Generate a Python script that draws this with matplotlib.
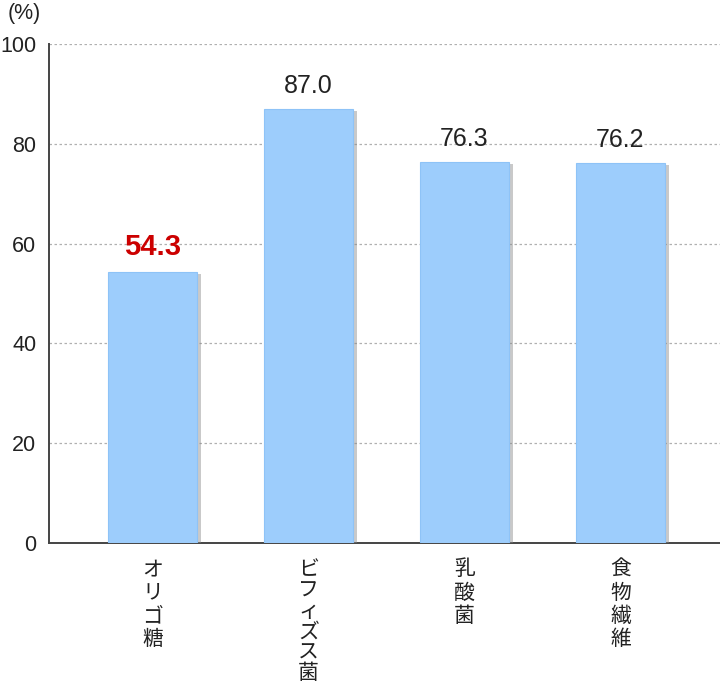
import matplotlib
matplotlib.use("Agg")
import matplotlib.pyplot as plt
import matplotlib.patheffects as pe

plt.rcParams['font.family'] = ['Noto Sans CJK JP', 'DejaVu Sans']

categories = ["オリゴ糖", "ビフィズス菌", "乳酸菌", "食物繊維"]
values = [54.3, 87.0, 76.3, 76.2]
value_labels = ["54.3", "87.0", "76.3", "76.2"]
yticks = [0, 20, 40, 60, 80, 100]

fig = plt.figure(figsize=(7.2, 6.84), dpi=100)
ax = fig.add_axes([0.068, 0.206, 0.932, 0.7297])

x = list(range(len(categories)))
bars = ax.bar(x, values, width=0.57, color="#9dcdfc", edgecolor="#8ec3f7", linewidth=0.8, zorder=3)
for b in bars:
    b.set_path_effects([pe.SimplePatchShadow(offset=(3, -1.5), shadow_rgbFace="#888888", alpha=0.45), pe.Normal()])

for i, (v, lab) in enumerate(zip(values, value_labels)):
    if i == 0:
        ax.text(i, v + 2.2, lab, ha="center", va="bottom", fontsize=21, color="#cc0000",
                fontweight="bold", family="Liberation Sans", zorder=4)
    else:
        ax.text(i, v + 2.2, lab, ha="center", va="bottom", fontsize=18, color="#222222",
                family="Liberation Sans", zorder=4)

ax.set_xlim(-0.663, 3.638)
ax.set_ylim(0, 100)
ax.set_yticks(yticks)
ax.set_yticklabels([str(t) for t in yticks], fontsize=15.5, color="#222222", family="Liberation Sans")
ax.tick_params(axis="y", length=0, pad=9)
ax.tick_params(axis="x", length=0, pad=11)
ax.set_xticks(x)
labels = ax.set_xticklabels(["\n".join(c) for c in categories], fontsize=15, color="#222222",
                            va="top", linespacing=1.08)
labels[1].set_linespacing(0.93)

for t in yticks[1:]:
    ax.axhline(t, color="#b0b0b0", linestyle=(0, (2, 2)), linewidth=0.9, zorder=1)

for s in ["top", "right"]:
    ax.spines[s].set_visible(False)
ax.spines["left"].set_color("#444444")
ax.spines["bottom"].set_color("#444444")
ax.spines["left"].set_linewidth(1.4)
ax.spines["bottom"].set_linewidth(1.4)

fig.text(8 / 720, 1 - 13 / 684, "(%)", fontsize=15.5, color="#222222", va="center", ha="left",
         family="Liberation Sans")

fig.savefig("out.png", dpi=100, facecolor="white")
